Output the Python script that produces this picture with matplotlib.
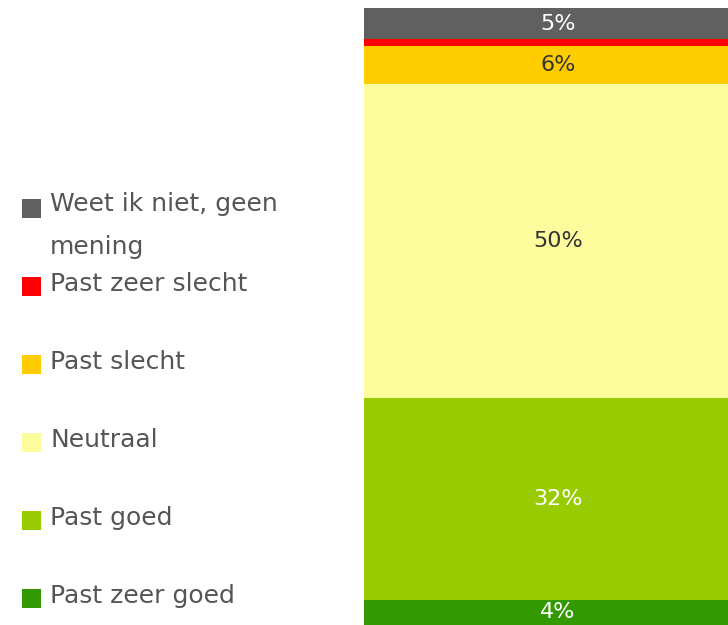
import matplotlib
matplotlib.use("Agg")
import matplotlib.pyplot as plt
from matplotlib.patches import Rectangle

# categories from bottom to top of the stacked bar
categories = ["Past zeer goed", "Past goed", "Neutraal", "Past slecht",
              "Past zeer slecht", "Weet ik niet, geen\nmening"]
values = [4, 32, 50, 6, 1, 5]
colors = ["#339900", "#99cc00", "#fcfc9c", "#ffcc00", "#ff0000", "#606060"]
label_colors = ["white", "white", "#333333", "#333333", None, "white"]

fig = plt.figure(figsize=(7.28, 6.25), dpi=100)
ax = fig.add_axes([0.5, 0.0, 388 / 728, 1 - 8 / 625])

bottom = 0
for val, col, lc in zip(values, colors, label_colors):
    ax.bar(0, val, bottom=bottom, width=1, color=col, linewidth=0)
    if lc is not None:
        ax.text(0, bottom + val / 2, f"{val}%", ha="center", va="center",
                color=lc, fontsize=16)
    bottom += val

ax.set_xlim(-0.5, 0.5)
ax.set_ylim(0, sum(values))
ax.axis("off")

# legend drawn by hand, top entry first
H = 625
for i, (cat, col) in enumerate(zip(categories[::-1], colors[::-1])):
    base = 213 + 78 * i
    fig.patches.append(Rectangle((22 / 728, 1 - (base + 5) / H), 19 / 728, 19 / H,
                                 transform=fig.transFigure, color=col, linewidth=0))
    nl = cat.count("\n")
    fig.text(50 / 728, 1 - (base + 41 * nl) / H, cat, ha="left", va="baseline",
             fontsize=18, color="#555555", linespacing=2.0)

fig.savefig("out.png", dpi=100)
